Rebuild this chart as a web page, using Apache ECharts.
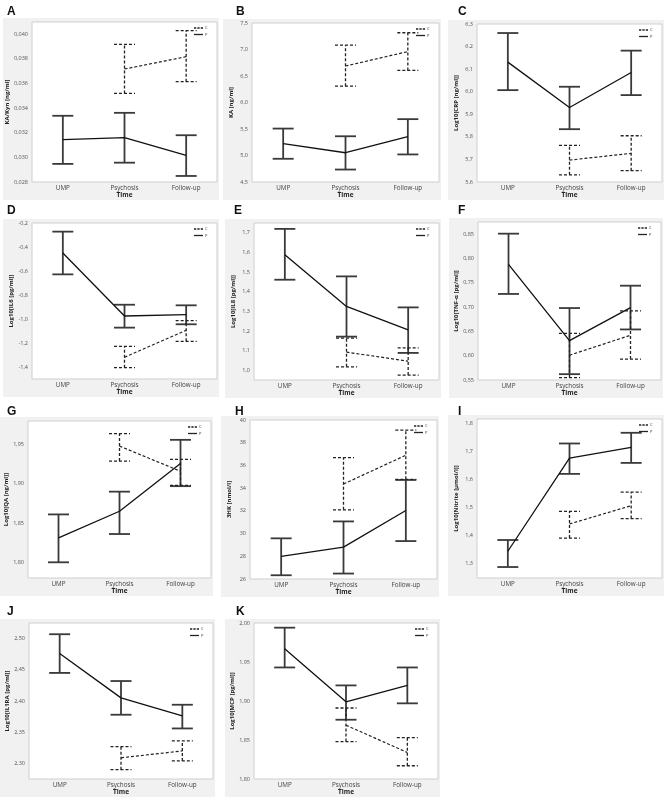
<!DOCTYPE html>
<html><head><meta charset="utf-8">
<script src="https://cdn.jsdelivr.net/npm/echarts@6/dist/echarts.min.js"></script>
<style>html,body{margin:0;padding:0;background:#fff}#c{width:669px;height:800px}</style>
</head><body><div id="c"></div>
<script>
const categories = ['UMP', 'Psychosis', 'Follow-up'];
const letters = ['A','B','C','D','E','F','G','H','I','J','K'];
const yTitles = ['KA/Kyn [ng/ml]','KA [ng/ml]','Log10[CRP [ng/ml]]','Log10[IL6 [pg/ml]]','Log10[IL8 [pg/ml]]',
  'Log10[TNF-α [pg/ml]]','Log10[QA [ng/ml]]','3HK [nmol/l]','Log10[Nitrite [µmol/l]]','Log10[IL1RA [pg/ml]]','Log10[MCP [pg/ml]]'];

// [lower, mean, upper] per time point; controls (C) have no UMP value
const A_P = [[0.02947,0.03145,0.03338],[0.02957,0.03161,0.03362],[0.02849,0.03017,0.03180]];
const A_C = [null,[0.03520,0.03718,0.03919],[0.03615,0.03818,0.04030]];
const B_P = [[4.938,5.223,5.508],[4.735,5.052,5.363],[5.020,5.356,5.686]];
const B_C = [null,[6.308,6.688,7.081],[6.606,6.961,7.316]];
const C_P = [[6.007,6.131,6.260],[5.834,5.930,6.022],[5.985,6.085,6.182]];
const C_C = [null,[5.632,5.697,5.762],[5.650,5.727,5.805]];
const D_P = [[-0.628,-0.450,-0.272],[-1.072,-0.975,-0.881],[-1.044,-0.964,-0.886]];
const D_C = [null,[-1.406,-1.319,-1.228],[-1.186,-1.094,-1.014]];
const E_P = [[1.461,1.588,1.720],[1.171,1.325,1.478],[1.088,1.205,1.320]];
const E_C = [null,[1.017,1.092,1.163],[0.975,1.046,1.114]];
const F_P = [[0.727,0.788,0.851],[0.562,0.631,0.698],[0.654,0.699,0.744]];
const F_C = [null,[0.555,0.601,0.646],[0.593,0.642,0.692]];
const G_P = [[1.800,1.831,1.861],[1.836,1.865,1.890],[1.897,1.926,1.956]];
const G_C = [null,[1.929,1.948,1.964],[1.898,1.916,1.931]];
const H_P = [[26.33,28.00,29.58],[26.48,28.81,31.07],[29.34,32.03,34.72]];
const H_C = [null,[32.09,34.36,36.69],[34.78,36.90,39.10]];
const I_P = [[1.289,1.345,1.385],[1.620,1.676,1.728],[1.659,1.714,1.766]];
const I_C = [null,[1.392,1.442,1.487],[1.461,1.507,1.555]];
const J_P = [[2.445,2.476,2.507],[2.378,2.405,2.432],[2.356,2.376,2.394]];
const J_C = [null,[2.290,2.309,2.327],[2.304,2.320,2.336]];
const K_P = [[1.943,1.967,1.994],[1.876,1.899,1.920],[1.897,1.920,1.943]];
const K_C = [null,[1.848,1.869,1.891],[1.817,1.834,1.853]];

// y axis: [min, max, tick step, label step, decimals]
const yAxes = [
  [0.028, 0.041, 0.001, 0.002, 3],
  [4.5, 7.5, 0.5, 0.5, 1],
  [5.6, 6.3, 0.1, 0.1, 1],
  [-1.5, -0.2, 0.1, 0.2, 1],
  [0.95, 1.75, 0.05, 0.1, 1],
  [0.55, 0.875, 0.025, 0.05, 2],
  [1.78, 1.98, 0.01, 0.05, 2],
  [26, 40, 2, 2, 0],
  [1.25, 1.815, 0.05, 0.1, 1],
  [2.275, 2.525, 0.025, 0.05, 2],
  [1.80, 2.00, 0.05, 0.05, 2]
];
const pData = [A_P,B_P,C_P,D_P,E_P,F_P,G_P,H_P,I_P,J_P,K_P];
const cData = [A_C,B_C,C_C,D_C,E_C,F_C,G_C,H_C,I_C,J_C,K_C];

// layout: plot rect [left, top, width, height]
const rects = [
  [32,22,185,160],[252,23,187,159],[477,24,185,158],
  [32,223,185,156],[254,223,185,157],[478,222,183,158],
  [28,421,183,157],[250,420,187,159],[477,419,185,159],
  [29,623,184,156],[254,623,184,156]
];
const letterPos = [[7,6],[236,6],[458,6],[7,205],[234,205],[458,205],[7,406],[235,406],[458,406],[7,606],[236,606]];

const FONT = '"Open Sans", "Noto Sans", sans-serif';
const chart = echarts.init(document.getElementById('c'), null, {renderer:'canvas'});

function errRender(dashed, color, width, capHalf) {
  return function (params, api) {
    const x = api.value(0);
    const lo = api.coord([x, api.value(1)]);
    const hi = api.coord([x, api.value(2)]);
    const style = {stroke: color, lineWidth: width, fill: null, lineDash: dashed ? [3, 2] : null};
    return {type: 'group', children: [
      {type: 'line', shape: {x1: lo[0], y1: lo[1], x2: hi[0], y2: hi[1]}, style: style},
      {type: 'line', shape: {x1: lo[0] - capHalf, y1: lo[1], x2: lo[0] + capHalf, y2: lo[1]}, style: style},
      {type: 'line', shape: {x1: hi[0] - capHalf, y1: hi[1], x2: hi[0] + capHalf, y2: hi[1]}, style: style}
    ]};
  };
}

const DASH_ICON = 'path://M0,0h3v1h-3zM4.5,0h3v1h-3zM9,0h3v1h-3z';
const grid = [], xAxis = [], yAxis = [], series = [], title = [], legend = [], graphics = [];
rects.forEach((r, i) => {
  const [l, t, w, h] = r;
  graphics.push({type: 'rect', z: -100, shape: {x: l - 29, y: t - 4, width: w + 31, height: h + 22},
    style: {fill: '#f1f1f1'}});
  grid.push({left: l, top: t, width: w, height: h, show: true, backgroundColor: '#ffffff',
    borderColor: '#cfcfcf', borderWidth: 1});
  xAxis.push({type: 'category', gridIndex: i, data: categories, boundaryGap: true,
    axisLine: {show: false}, axisTick: {show: false}, splitLine: {show: false},
    axisLabel: {fontSize: 6.3, color: '#444', margin: 3, fontFamily: FONT},
    name: 'Time', nameLocation: 'middle', nameGap: 9.5,
    nameTextStyle: {fontSize: 6.5, fontWeight: 'bold', color: '#222', fontFamily: FONT}});
  const [mn, mx, step, lstep, dec] = yAxes[i];
  yAxis.push({type: 'value', gridIndex: i, min: mn, max: mx, interval: step,
    axisLine: {show: false}, axisTick: {show: false}, splitLine: {show: false},
    axisLabel: {fontSize: 5.5, color: '#555', margin: 4, fontFamily: FONT,
      formatter: function (v) {
        const q = v / lstep;
        if (Math.abs(q - Math.round(q)) > 1e-6) return '';
        return v.toFixed(dec).replace('.', ',');
      }},
    name: yTitles[i], nameLocation: 'middle', nameGap: 18, nameRotate: 90,
    nameTextStyle: {fontSize: 6, fontWeight: 'bold', color: '#222', fontFamily: FONT}});
  const P = pData[i], C = cData[i];
  series.push({type: 'custom', name: 'Perr', xAxisIndex: i, yAxisIndex: i,
    renderItem: errRender(false, '#3a3a3a', 1.8, 10.5), silent: true,
    encode: {x: 0, y: [1, 2]},
    data: P.map((d, k) => [k, d[0], d[2]])});
  series.push({type: 'custom', name: 'Cerr', xAxisIndex: i, yAxisIndex: i,
    renderItem: errRender(true, '#222', 1.3, 10.5), silent: true,
    encode: {x: 0, y: [1, 2]},
    data: C.map((d, k) => d ? [k, d[0], d[2]] : null).filter(d => d)});
  series.push({type: 'line', name: 'P', xAxisIndex: i, yAxisIndex: i, symbol: 'none',
    lineStyle: {color: '#111', width: 1.3}, itemStyle: {color: '#111'}, silent: true,
    data: P.map(d => d[1])});
  series.push({type: 'line', name: 'C', xAxisIndex: i, yAxisIndex: i, symbol: 'none',
    lineStyle: {color: '#222', width: 1.2, type: [3, 2]}, itemStyle: {color: '#222'}, silent: true,
    data: C.map(d => d ? d[1] : null)});
  title.push({text: letters[i], left: letterPos[i][0], top: letterPos[i][1], padding: 0,
    textStyle: {fontSize: 12, fontWeight: 'bold', color: '#111', fontFamily: '"Liberation Sans", Arial, sans-serif'}});
  legend.push({data: [{name: 'C', icon: DASH_ICON, itemStyle: {color: '#222'}},
                      {name: 'P', icon: 'rect', itemStyle: {color: '#222'}}],
    orient: 'vertical', left: l + w - 23, top: t + 4, symbolKeepAspect: false,
    itemWidth: 9, itemHeight: 1.3, itemGap: 2.5, padding: 0, selectedMode: false,
    textStyle: {fontSize: 4, color: '#333', padding: [0, 0, 0, -3], fontFamily: FONT}});
});

chart.setOption({animation: false, title, grid, xAxis, yAxis, series, legend, graphic: graphics});
</script>
</body></html>
